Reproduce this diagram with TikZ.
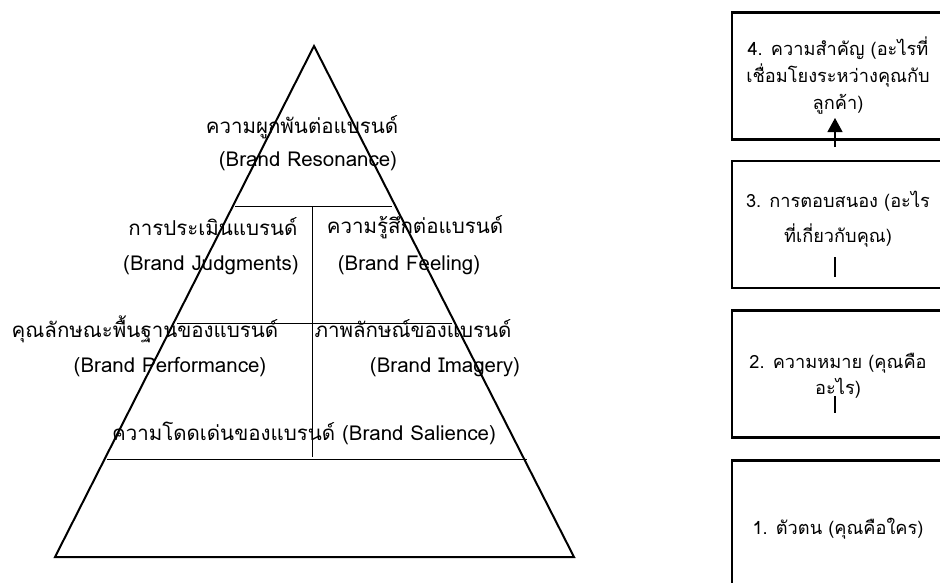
\documentclass[tikz,border=0pt]{standalone}
\usepackage{fontspec}
\setmainfont[Script=Thai]{Loma}
\usetikzlibrary{arrows.meta}
\tikzset{
  pyr/.style={line width=2pt, line join=miter},
  divl/.style={line width=1pt},
  lbl/.style={inner sep=0pt, font=\fontsize{20.5}{24}\selectfont},
  boxn/.style={draw, line width=2.2pt, minimum width=212pt, minimum height=127pt, inner sep=0pt},
  boxt/.style={inner sep=0pt, align=center, font=\fontsize{18.2}{25.5}\selectfont},
  conn/.style={line width=1.2pt},
}
\begin{document}
\begin{tikzpicture}[x=1pt,y=-1pt]
\useasboundingbox (0,0) rectangle (940,582);
\clip (0,0) rectangle (940,582);
% pyramid
\coordinate (apex) at (314,46);
\coordinate (bl) at (55,557);
\coordinate (br) at (574,557);
\draw[pyr] (apex) -- (br) -- (bl) -- cycle;
\coordinate (l1a) at (235,206); \coordinate (l1b) at (392,206);
\coordinate (l2a) at (177,323); \coordinate (l2b) at (452,323);
\coordinate (l3a) at (107,459); \coordinate (l3b) at (527,459);
\coordinate (vt) at (312,206); \coordinate (vb) at (312,457);
\draw[divl] (l1a) -- (l1b);
\draw[divl] (l2a) -- (l2b);
\draw[divl] (l3a) -- (l3b);
\draw[divl] (vt) -- (vb);
% pyramid labels
\node[lbl] (t1) at (302,127) {ความผูกพันต่อแบรนด์};
\node[lbl] (t1e) at (308,161) {(Brand Resonance)};
\node[lbl] (t2) at (213,227) {การประเมินแบรนด์};
\node[lbl] (t2e) at (211,265) {(Brand Judgments)};
\node[lbl] (t3) at (415,227) {ความรู้สึกต่อแบรนด์};
\node[lbl] (t3e) at (409,265) {(Brand Feeling)};
\node[lbl] (t4) at (145,329) {คุณลักษณะพื้นฐานของแบรนด์};
\node[lbl] (t4e) at (170,367) {(Brand Performance)};
\node[lbl] (t5) at (413,329) {ภาพลักษณ์ของแบรนด์};
\node[lbl] (t5e) at (445,367) {(Brand Imagery)};
\node[lbl] (t6) at (304,433) {ความโดดเด่นของแบรนด์ (Brand Salience)};
% right boxes
\node[boxn] (b4) at (838,76) {};
\node[boxn] (b3) at (838,224.5) {};
\node[boxn] (b2) at (838,374) {};
\node[boxn] (b1) at (838,524) {};
\node[boxt] (b4t) at (838,76) {4. ความสำคัญ (อะไรที่\\[1.5pt]เชื่อมโยงระหว่างคุณกับ\\[1.5pt]ลูกค้า)};
\node[boxt] (b3t) at (838,219) {3. การตอบสนอง (อะไร\\[10pt]ที่เกี่ยวกับคุณ)};
\node[boxt] (b2t) at (838,376) {2. ความหมาย (คุณคือ\\อะไร)};
\node[boxt] (b1t) at (838,529) {1. ตัวตน (คุณคือใคร)};
% connectors
\coordinate (a3) at (835,147);
\coordinate (a4) at (835,118);
\draw[conn, -{Triangle[width=15pt,length=14pt]}] (a3) -- (a4);
\coordinate (c3a) at (835,257); \coordinate (c3b) at (835,277);
\draw[conn] (c3a) -- (c3b);
\coordinate (c2a) at (835,396); \coordinate (c2b) at (835,413);
\draw[conn] (c2a) -- (c2b);
\end{tikzpicture}
\end{document}
